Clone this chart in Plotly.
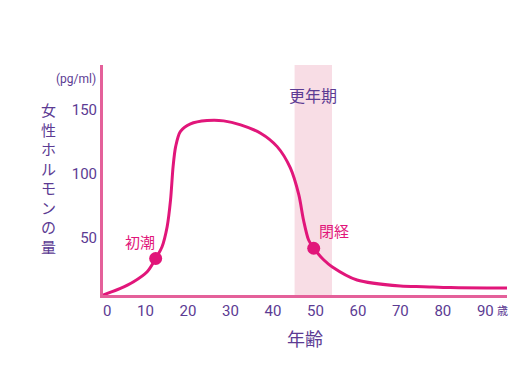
import plotly.graph_objects as go

# ---- data ----
ages = [0, 4.1, 7.2, 10.4, 12.4, 13.9, 15.1, 15.9, 16.5, 17.1, 18.2, 20.6, 24.5, 28.4,
        32.4, 37.1, 41.0, 44.1, 46.1, 47.2, 48.4, 49.6, 52.0, 53.9, 59.8, 70.0, 75.4, 81.8, 95.1]
hormone = [5.5, 10.7, 15.9, 23.7, 34.0, 43.2, 58.8, 79.7, 105.7, 121.3, 133.0, 139.0, 141.6, 141.4,
           138.3, 131.8, 121.3, 104.7, 83.6, 64.0, 48.4, 42.0, 32.8, 27.6, 17.2, 12.5, 12.0, 11.3, 10.9]
event_ages = [12.4, 49.6]
event_vals = [34.0, 42.0]
event_labels = ["初潮", "閉経"]
meno_band = [45.1, 53.9]
x_ticks = [0, 10, 20, 30, 40, 50, 60, 70, 80, 90]
y_ticks = [50, 100, 150]
y_title = "女性ホルモンの量"

PINK = "#e1167a"
AXIS = "#e4609a"
PURPLE = "#5c3b93"
BAND = "#f8dde5"
FONT = "Noto Sans CJK JP"
NUM = "Liberation Sans Narrow, Roboto, sans-serif"

W, H = 531, 375
L, R, T, B = 102.5, 24.3, 65, 80
pw, ph = W - L - R, H - T - B


def px(x):
    return (x - L) / pw


def py(y):
    return (H - B - y) / ph


fig = go.Figure()
fig.add_trace(go.Scatter(x=ages, y=hormone, mode="lines",
                         line=dict(color=PINK, width=3, shape="spline", smoothing=0.8),
                         hoverinfo="skip", showlegend=False))
fig.add_trace(go.Scatter(x=event_ages, y=event_vals, mode="markers",
                         marker=dict(color=PINK, size=13), showlegend=False, hoverinfo="skip"))

fig.add_shape(type="rect", xref="x", yref="paper", x0=meno_band[0], x1=meno_band[1],
              y0=0, y1=1, fillcolor=BAND, line_width=0, layer="below")

ann = []
ann.append(dict(x=event_ages[0], y=event_vals[0], xref="x", yref="y", text=event_labels[0],
                showarrow=False, xshift=-16, yshift=17, font=dict(family=FONT, size=15, color=PINK)))
ann.append(dict(x=event_ages[1], y=event_vals[1], xref="x", yref="y", text=event_labels[1],
                showarrow=False, xshift=20, yshift=18, font=dict(family=FONT, size=15, color=PINK)))
ann.append(dict(x=px(313), y=py(95), xref="paper", yref="paper", text="更年期", showarrow=False,
                xanchor="center", yanchor="middle", font=dict(family=FONT, size=16, color=PURPLE)))
ann.append(dict(x=px(97), y=py(79), xref="paper", yref="paper", text="(pg/ml)", showarrow=False,
                xanchor="right", yanchor="middle", font=dict(family=NUM, size=12, color=PURPLE)))
ann.append(dict(x=px(501.7), y=py(310), xref="paper", yref="paper", text="歳", showarrow=False,
                xanchor="center", yanchor="middle", font=dict(family=FONT, size=11, color=PURPLE)))
ann.append(dict(x=px(305), y=py(338), xref="paper", yref="paper", text="年齢", showarrow=False,
                xanchor="center", yanchor="middle", font=dict(family=FONT, size=18, color=PURPLE)))
ann.append(dict(x=px(48), y=py(178), xref="paper", yref="paper", text="<br>".join(y_title),
                showarrow=False, xanchor="center", yanchor="middle", borderpad=0,
                font=dict(family=FONT, size=15, color=PURPLE)))

tick_text = ["\u2007" + "0" if v == 0 else str(v) for v in x_ticks]

fig.update_layout(
    width=W, height=H, margin=dict(l=L, r=R, t=T, b=B),
    paper_bgcolor="white", plot_bgcolor="white",
    annotations=ann,
    xaxis=dict(range=[0, 95.1], tickvals=x_ticks, ticktext=tick_text, showgrid=False,
               zeroline=False, showline=True, linecolor=AXIS, linewidth=3, ticks="",
               tickfont=dict(family=NUM, size=15, color=PURPLE), fixedrange=True),
    yaxis=dict(range=[5.5, 185], tickvals=y_ticks, showgrid=False, zeroline=False,
               showline=True, linecolor=AXIS, linewidth=3, ticks="",
               tickfont=dict(family=NUM, size=15, color=PURPLE), fixedrange=True),
)

fig.write_html("out.html")
